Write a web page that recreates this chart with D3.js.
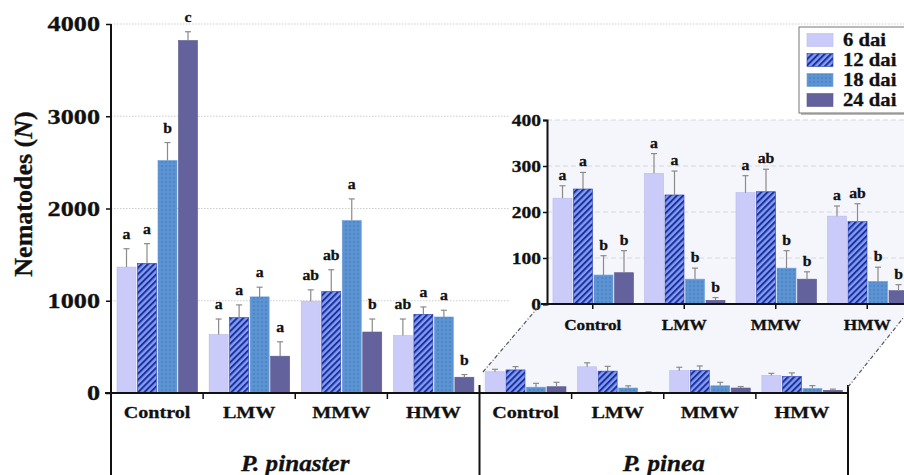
<!DOCTYPE html>
<html><head><meta charset="utf-8">
<script src="https://cdn.jsdelivr.net/npm/d3@7"></script>
<style>
html,body{margin:0;padding:0;background:#fff;}
svg{display:block;}
text{font-family:"Liberation Serif","Times New Roman",serif;font-weight:bold;fill:#111;stroke:#111;stroke-width:0.3px;}
</style></head><body>
<div id="chart"></div>
<script>
// ---------- data ----------
const categories = ["Control","LMW","MMW","HMW"];
const species = ["P. pinaster","P. pinea"];
const seriesNames = ["6 dai","12 dai","18 dai","24 dai"];
const yTicksMain = [0,1000,2000,3000,4000];
const yTicksInset = [0,100,200,300,400];
// P. pinaster: mean per category (rows) x series (cols)
const pinasterMean = [[1365,1405,2520,3821],[635,817,1042,399],[995,1100,1869,661],[624,853,824,171]];
const pinasterErr  = [[199,214,195,95],[167,138,105,156],[123,236,235,141],[178,80,73,29]];
const pinasterLetters = [["a","a","b","c"],["a","a","a","a"],["ab","ab","a","b"],["ab","a","a","b"]];
// P. pinea
const pineaMean = [[230,250,63,68],[284,237,54,8],[242,244,78,54],[191,179,49,29]];
const pineaErr  = [[27,36,42,48],[43,52,24,6],[37,49,38,16],[22,39,31,13]];
const pineaLetters = [["a","a","b","b"],["a","a","b","b"],["a","ab","b","b"],["a","ab","b","b"]];

// ---------- setup ----------
const W = 904, H = 475;
const svg = d3.select("#chart").append("svg").attr("width", W).attr("height", H);
const defs = svg.append("defs");
const SX = 1.15;

// patterns
const p12 = defs.append("pattern").attr("id","p12").attr("patternUnits","userSpaceOnUse")
  .attr("width",4.4).attr("height",4.4).attr("patternTransform","rotate(45)");
p12.append("rect").attr("width",4.4).attr("height",4.4).attr("fill","#7f9df2");
p12.append("rect").attr("width",2.0).attr("height",4.4).attr("fill","#1f2f9c");
const p18 = defs.append("pattern").attr("id","p18").attr("patternUnits","userSpaceOnUse")
  .attr("width",4).attr("height",4);
p18.append("rect").attr("width",4).attr("height",4).attr("fill","#5c94d3");
p18.append("circle").attr("cx",2).attr("cy",2).attr("r",0.75).attr("fill","#3b70b2");

const fills = ["#cbcbf9","url(#p12)","url(#p18)","#64629c"];
const strokes = ["#b9b9ef","#2a3cb0","#6e9fd8","#5a588f"];

// scales
const groups = d3.range(8);
const xMain = d3.scaleBand().domain(groups).range([111, 848]);
const xSub = d3.scaleBand().domain(seriesNames).range([6, 86.5]).paddingInner(0.073);
const yMain = d3.scaleLinear().domain([0,4000]).range([393,24]);
const xIn = d3.scaleBand().domain(categories).range([547, 547 + 4*91.5]);
const xSubIn = d3.scaleBand().domain(seriesNames).range([6, 86.5]).paddingInner(0.073);
const yIn = d3.scaleLinear().domain([0,400]).range([304,120]);

// table for main chart
const mainRows = [];
[pinasterMean, pineaMean].forEach((M, si) => {
  M.forEach((row, ci) => row.forEach((v, k) => {
    const E = si === 0 ? pinasterErr : pineaErr;
    const L = si === 0 ? pinasterLetters : null;
    mainRows.push({g: si*4 + ci, s: seriesNames[k], k, v, e: E[ci][k], letter: L ? L[ci][k] : null});
  }));
});
const insetRows = [];
pineaMean.forEach((row, ci) => row.forEach((v, k) => {
  insetRows.push({c: categories[ci], s: seriesNames[k], k, v, e: pineaErr[ci][k], letter: pineaLetters[ci][k]});
}));

function stxt(g, x, y, s, size, anchor, opts = {}) {
  const t = g.append("text")
    .attr("transform", `translate(${x},${y}) scale(${opts.sx || SX},1)`)
    .attr("text-anchor", anchor || "middle")
    .style("font-size", size + "px")
    .text(s);
  if (opts.italic) t.style("font-style", "italic");
  return t;
}

// ---------- main grid ----------
svg.append("g").selectAll("line").data(yTicksMain.filter(d => d > 0)).join("line")
  .attr("x1", 111).attr("x2", W).attr("y1", d => yMain(d)).attr("y2", d => yMain(d))
  .attr("stroke", "#cdcdcd").attr("stroke-width", 1).attr("stroke-dasharray", "1.5,1.5");

// ---------- inset background ----------
svg.append("rect").attr("x", 510).attr("y", 110).attr("width", W - 510).attr("height", 240).attr("fill", "#fff");
svg.append("polygon")
  .attr("points", [[483,393],[483,372],[540,305],[547,305],[547,120],[W,120],[W,317],[848,387],[848,393]].map(p => p.join(",")).join(" "))
  .attr("fill", "#f5f5fc");

// inset grid
svg.append("g").selectAll("line").data(yTicksInset.filter(d => d > 0)).join("line")
  .attr("x1", 547).attr("x2", W).attr("y1", d => yIn(d)).attr("y2", d => yIn(d))
  .attr("stroke", "#d8d8de").attr("stroke-width", 1).attr("stroke-dasharray", "5,3");

// inset bars
const gIn = svg.append("g");
gIn.selectAll("rect").data(insetRows).join("rect")
  .attr("x", d => xIn(d.c) + xSubIn(d.s)).attr("width", xSubIn.bandwidth())
  .attr("y", d => yIn(d.v)).attr("height", d => yIn(0) - yIn(d.v))
  .attr("fill", d => fills[d.k]).attr("stroke", d => strokes[d.k]).attr("stroke-width", 0.6);
const ebIn = gIn.append("g").attr("stroke", "#8a8a8a").attr("stroke-width", 1.2);
insetRows.forEach(d => {
  const cx = xIn(d.c) + xSubIn(d.s) + xSubIn.bandwidth()/2;
  ebIn.append("line").attr("x1", cx).attr("x2", cx).attr("y1", yIn(d.v)).attr("y2", yIn(d.v + d.e));
  ebIn.append("line").attr("x1", cx - 3).attr("x2", cx + 3).attr("y1", yIn(d.v + d.e)).attr("y2", yIn(d.v + d.e));
});
insetRows.forEach(d => {
  const cx = xIn(d.c) + xSubIn(d.s) + xSubIn.bandwidth()/2;
  stxt(gIn, cx, yIn(d.v + d.e) - 6, d.letter, 15, "middle", {sx: 1.05});
});

// inset axes
const axInY = svg.append("g").attr("transform", "translate(547,0)")
  .call(d3.axisLeft(yIn).tickValues(yTicksInset).tickSize(4).tickPadding(4).tickFormat(d3.format("d")));
axInY.select(".domain").attr("stroke", "#111").attr("stroke-width", 2);
axInY.selectAll(".tick line").attr("stroke", "#111").attr("stroke-width", 1.5);
axInY.selectAll(".tick text").style("font-size", "17px").attr("font-family", null).attr("fill", "#111")
  .attr("x", null).attr("transform", `translate(-6,0) scale(${SX},1)`);

const axInX = svg.append("g").attr("transform", "translate(0,304)")
  .call(d3.axisBottom(xIn).tickSize(5).tickPadding(10));
axInX.select(".domain").attr("d", `M541,0H${W}`).attr("stroke", "#111").attr("stroke-width", 2);
axInX.selectAll(".tick line").attr("stroke", "#111").attr("stroke-width", 1.5);
axInX.selectAll(".tick text").style("font-size", "15px").attr("font-family", null).attr("fill", "#111")
  .attr("y", null).attr("dy", null).attr("transform", `translate(0,26) scale(${SX},1)`);

// ---------- main bars ----------
const gMain = svg.append("g");
gMain.selectAll("rect").data(mainRows).join("rect")
  .attr("x", d => xMain(d.g) + xSub(d.s)).attr("width", xSub.bandwidth())
  .attr("y", d => yMain(d.v)).attr("height", d => yMain(0) - yMain(d.v))
  .attr("fill", d => fills[d.k]).attr("stroke", d => strokes[d.k]).attr("stroke-width", 0.6);
const ebMain = gMain.append("g").attr("stroke", "#8a8a8a").attr("stroke-width", 1.2);
mainRows.forEach(d => {
  const cx = xMain(d.g) + xSub(d.s) + xSub.bandwidth()/2;
  ebMain.append("line").attr("x1", cx).attr("x2", cx).attr("y1", yMain(d.v)).attr("y2", yMain(d.v + d.e));
  ebMain.append("line").attr("x1", cx - 3).attr("x2", cx + 3).attr("y1", yMain(d.v + d.e)).attr("y2", yMain(d.v + d.e));
});
mainRows.filter(d => d.letter).forEach(d => {
  const cx = xMain(d.g) + xSub(d.s) + xSub.bandwidth()/2;
  stxt(gMain, cx, yMain(d.v + d.e) - 10, d.letter, 15, "middle", {sx: 1.05});
});

// ---------- main axes ----------
const axY = svg.append("g").attr("transform", "translate(111,0)")
  .call(d3.axisLeft(yMain).tickValues(yTicksMain).tickSize(5).tickPadding(6).tickFormat(d3.format("d")));
axY.select(".domain").attr("d", `M-0,${yMain(4000)}V${H}`).attr("stroke", "#111").attr("stroke-width", 2);
axY.selectAll(".tick line").attr("stroke", "#111").attr("stroke-width", 1.5);
axY.selectAll(".tick text").style("font-size", "21.5px").attr("font-family", null).attr("fill", "#111")
  .attr("x", null).attr("transform", `translate(-11,0) scale(1.22,1)`);

// x axis line and group-boundary ticks
const gx = svg.append("g");
gx.append("line").attr("x1", 105).attr("x2", 848).attr("y1", yMain(0)).attr("y2", yMain(0))
  .attr("stroke", "#111").attr("stroke-width", 2);
gx.selectAll("line.tk").data(groups.filter(g => g % 4 !== 0)).join("line").attr("class", "tk")
  .attr("x1", g => xMain(g)).attr("x2", g => xMain(g)).attr("y1", yMain(0)).attr("y2", yMain(0) + 6)
  .attr("stroke", "#111").attr("stroke-width", 1.5);
// species dividers
[4, 8].forEach(g => {
  const x = g < 8 ? xMain(g) : xMain(7) + xMain.bandwidth();
  gx.append("line").attr("x1", x).attr("x2", x).attr("y1", yMain(0) - 8).attr("y2", H)
    .attr("stroke", "#111").attr("stroke-width", 2);
});
// category labels
groups.forEach(g => {
  stxt(gx, xMain(g) + xMain.bandwidth()/2, 418, categories[g % 4], 17.5, "middle");
});
// species labels
species.forEach((s, i) => {
  const cx = (xMain(i*4) + xMain(i*4 + 3) + xMain.bandwidth()) / 2;
  stxt(gx, cx, 471, s, 24, "middle", {italic: true, sx: 1.05});
});

// y title
const yt = svg.append("text").attr("transform", "translate(32,194) rotate(-90)")
  .attr("text-anchor", "middle").style("font-size", "26px");
yt.append("tspan").text("Nematodes (");
yt.append("tspan").style("font-style", "italic").text("N");
yt.append("tspan").text(")");

// connector dash-dot lines
svg.append("line").attr("x1", 483).attr("y1", 372).attr("x2", 540).attr("y2", 305)
  .attr("stroke", "#555").attr("stroke-width", 1.2).attr("stroke-dasharray", "4,2,1,2");
svg.append("line").attr("x1", 848).attr("y1", 387).attr("x2", W).attr("y2", 317)
  .attr("stroke", "#555").attr("stroke-width", 1.2).attr("stroke-dasharray", "4,2,1,2");

// ---------- legend ----------
const lg = svg.append("g");
lg.append("rect").attr("x", 801).attr("y", 29).attr("width", 120).attr("height", 86).attr("fill", "#bbb");
lg.append("rect").attr("x", 799).attr("y", 27).attr("width", 120).attr("height", 86)
  .attr("fill", "#fff").attr("stroke", "#777").attr("stroke-width", 1);
const legRowY = d3.scalePoint().domain(seriesNames).range([40, 100]);
seriesNames.forEach((s, k) => {
  lg.append("rect").attr("x", 807).attr("y", legRowY(s) - 6.5).attr("width", 26).attr("height", 13)
    .attr("fill", fills[k]).attr("stroke", strokes[k]).attr("stroke-width", 0.6);
  stxt(lg, 843, legRowY(s) + 6, s, 18, "start");
});
</script>
</body></html>
